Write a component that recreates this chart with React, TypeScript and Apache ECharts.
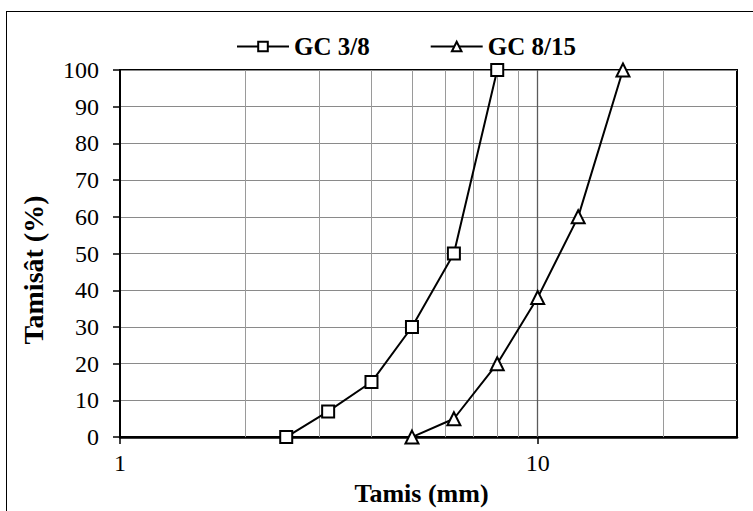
import React, { useEffect, useRef, useState } from "react";
import * as echarts from "echarts";

const sieveA = [2.5, 3.15, 4, 5, 6.3, 8];
const passA = [0, 7, 15, 30, 50, 100];
const sieveB = [5, 6.3, 8, 10, 12.5, 16];
const passB = [0, 5, 20, 38, 60, 100];
const seriesNames = ["GC 3/8", "GC 8/15"];
const minorGridX = [2, 3, 4, 5, 6, 7, 8, 9, 20];
const majorGridX = [10];
const xLabelValues = [1, 10];
const xMin = 1;
const xMax = 30;
const yMin = 0;
const yMax = 100;
const yStep = 10;
const xTitle = "Tamis (mm)";
const yTitle = "Tamisât (%)";

const FAMILY = "Liberation Serif";

export default function App() {
  const ref = useRef<HTMLDivElement>(null);
  const [ready, setReady] = useState("");
  useEffect(() => {
    if (!ref.current) return;
    const chart = echarts.init(ref.current, null, { renderer: "svg" });
    const lineSym = (name: string, xs: number[], ys: number[], symbol: string, size: number, extra: any = {}) => ({
      name,
      type: "line",
      data: xs.map((x, i) => [x, ys[i]]),
      symbol,
      symbolSize: size,
      lineStyle: { color: "#000", width: 2 },
      itemStyle: { color: "#fff", borderColor: "#000", borderWidth: 2 },
      z: 5,
      ...extra,
    });
    chart.setOption({
      animation: false,
      textStyle: { fontFamily: FAMILY },
      legend: {
        data: seriesNames,
        left: 231,
        top: 29,
        itemWidth: 52,
        itemHeight: 12,
        itemGap: 60,
        textStyle: { fontFamily: FAMILY, fontWeight: "bold", fontSize: 25, color: "#000" },
      },
      grid: {
        left: 120,
        right: 16,
        top: 70,
        bottom: 70,
        show: true,
        borderColor: "#000",
        borderWidth: 2,
      },
      xAxis: {
        type: "log",
        min: xMin,
        max: xMax,
        name: xTitle,
        nameLocation: "middle",
        nameGap: 19,
        nameTextStyle: { fontFamily: FAMILY, fontWeight: "bold", fontSize: 26, color: "#000", padding: [0, 14, 0, 0] },
        axisLine: { show: true, lineStyle: { color: "#000", width: 2.5 } },
        axisTick: { show: true, customValues: xLabelValues, length: 7, lineStyle: { color: "#000", width: 1.5 } },
        axisLabel: { customValues: xLabelValues, margin: 14, fontFamily: FAMILY, fontSize: 24, color: "#000" },
        splitLine: { show: false },
      },
      yAxis: {
        type: "value",
        min: yMin,
        max: yMax,
        interval: yStep,
        name: yTitle,
        nameLocation: "middle",
        nameRotate: 90,
        nameGap: 73,
        nameTextStyle: { fontFamily: FAMILY, fontWeight: "bold", fontSize: 28, color: "#000", padding: [0, 33, 0, 0] },
        axisLine: { show: true, lineStyle: { color: "#000", width: 2 } },
        axisTick: { show: true, length: 7, lineStyle: { color: "#000", width: 1.5 } },
        axisLabel: { margin: 21, fontFamily: FAMILY, fontSize: 24, color: "#000" },
        splitLine: { show: true, lineStyle: { color: "#8a8a8a", width: 1 } },
      },
      series: [
        lineSym(seriesNames[0], sieveA, passA, "rect", 12, {
          markLine: {
            silent: true,
            symbol: "none",
            label: { show: false },
            data: [
              ...minorGridX.map((v) => ({ xAxis: v, lineStyle: { color: "#9a9a9a", width: 1, type: "solid" } })),
              ...majorGridX.map((v) => ({ xAxis: v, lineStyle: { color: "#5a5a5a", width: 1.3, type: "solid" } })),
            ],
          },
        }),
        lineSym(seriesNames[1], sieveB, passB, "triangle", 13),
      ],
    });
    const texts = Array.from(ref.current.querySelectorAll("text"));
    setReady(texts.map((t) => getComputedStyle(t).fontFamily).join(","));
    return () => chart.dispose();
  }, []);
  return (
    <>
      <div ref={ref} style={{ position: "absolute", left: 0, top: 0, width: 753, height: 511 }} />
      <div
        style={{
          position: "absolute",
          left: 6,
          top: 11,
          width: 746,
          height: 499,
          borderTop: "1.5px solid #000",
          borderLeft: "1.5px solid #000",
          pointerEvents: "none",
        }}
      />
      <span
        aria-hidden="true"
        style={{ position: "absolute", left: 300, top: 300, fontFamily: FAMILY, fontSize: 1, color: "rgba(255,255,255,0)" }}
      >
        {ready ? "." : ""}
      </span>
    </>
  );
}
